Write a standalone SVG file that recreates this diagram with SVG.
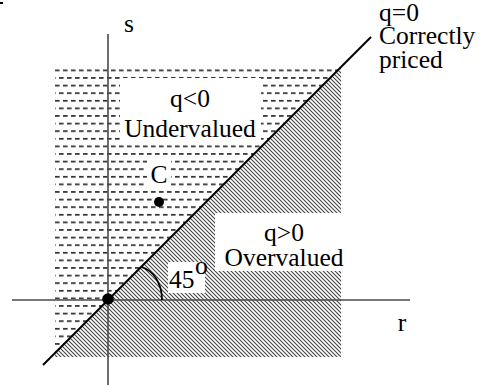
<svg xmlns="http://www.w3.org/2000/svg" width="483" height="386" viewBox="0 0 483 386">
<style>
text{font-family:"Liberation Serif","DejaVu Serif","Times New Roman",serif;font-size:25.5px;fill:#000}
.axis{stroke:#4a4a4a;stroke-width:1.6;fill:none}
.mask{fill:#fff}
</style>
<defs>
<pattern id="dash" patternUnits="userSpaceOnUse" x="55" y="69.5" width="8" height="15.2">
<rect x="0" y="0" width="4.6" height="1.7" fill="#2e2e2e"/>
<rect x="4" y="7.6" width="4.6" height="1.7" fill="#2e2e2e"/>
<rect x="-4" y="7.6" width="4.6" height="1.7" fill="#2e2e2e"/>
</pattern>
<pattern id="hatch" patternUnits="userSpaceOnUse" width="4" height="4">
<path d="M-1,-1 L5,5 M-1,3 L1,5 M3,-1 L5,1" stroke="#444" stroke-width="1.1"/>
</pattern>
</defs>
<rect x="0" y="2" width="3" height="2" fill="#000"/>
<g id="undervalued-region">
<polygon points="55,67 341,67 55,353" fill="url(#dash)"/>
</g>
<g id="overvalued-region">
<polygon points="341,67 341,357 55,357 55,353" fill="url(#hatch)"/>
</g>
<g id="label-masks">
<rect class="mask" x="120" y="78" width="141" height="65"/>
<rect class="mask" x="147" y="160" width="24" height="27"/>
<rect class="mask" x="215" y="213" width="127" height="58"/>
<rect class="mask" x="168" y="262" width="37" height="31"/>
</g>
<g id="connectors">
<line class="axis" x1="108" y1="34" x2="108" y2="385"/>
<line class="axis" x1="12" y1="300" x2="410" y2="300"/>
<line id="q0-line" x1="43" y1="365" x2="371" y2="37" stroke="#000" stroke-width="2"/>
<path id="angle-arc" d="M141,267 C153,270 162,283 162,300" stroke="#000" stroke-width="1.8" fill="none"/>
</g>
<g id="origin"><circle cx="108" cy="299" r="5.8" fill="#000"/></g>
<g id="point-C"><circle cx="159" cy="202" r="5" fill="#000"/><text x="159" y="183" text-anchor="middle">C</text></g>
<g id="axis-s"><text x="129" y="32" text-anchor="middle">s</text></g>
<g id="axis-r"><text x="402" y="331" text-anchor="middle">r</text></g>
<g id="label-q0"><text x="379" y="21">q=0</text><text x="379" y="44">Correctly</text><text x="379" y="68">priced</text></g>
<g id="label-under"><text x="190" y="107" text-anchor="middle">q&lt;0</text><text x="190" y="137" text-anchor="middle">Undervalued</text></g>
<g id="label-over"><text x="284" y="241" text-anchor="middle">q&gt;0</text><text x="284" y="266" text-anchor="middle">Overvalued</text></g>
<g id="label-angle"><text x="169" y="288">45</text><text x="195" y="274" font-size="15">o</text></g>
</svg>
